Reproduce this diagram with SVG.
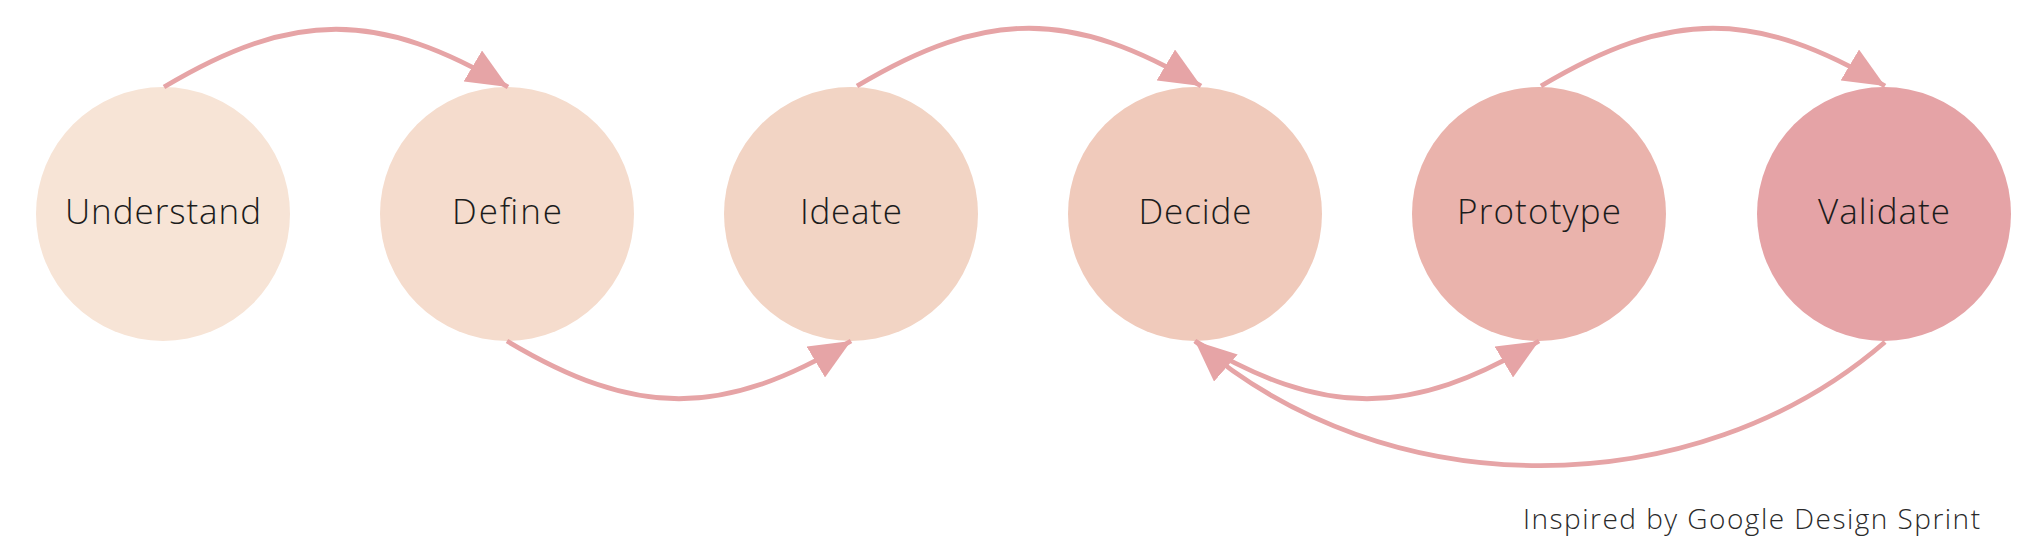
<svg xmlns="http://www.w3.org/2000/svg" width="2040" height="552" viewBox="0 0 2040 552">
<style>
.node text{font-family:"Open Sans","Liberation Sans",sans-serif;font-weight:300;font-size:35px;fill:#1c1c1c;text-anchor:middle}
.conn path{fill:none;stroke:#e6a4a6;stroke-width:4.8}
.caption{font-family:"Open Sans","Liberation Sans",sans-serif;font-weight:300;font-size:28px;fill:#2a2a2a;text-anchor:end}
</style>
<defs>
<marker id="arrow" markerUnits="userSpaceOnUse" markerWidth="42" markerHeight="36" refX="41" refY="18" orient="auto">
<path d="M0,0 L41,18 L0,36 z" fill="#e6a4a6"/>
</marker>
</defs>
<rect width="2040" height="552" fill="#ffffff"/>
<g id="understand" class="node"><circle cx="163" cy="214" r="127" fill="#f7e4d6"/><text x="163" y="224" textLength="196" lengthAdjust="spacing">Understand</text></g>
<g id="define" class="node"><circle cx="507" cy="214" r="127" fill="#f5dccd"/><text x="507" y="224" textLength="110" lengthAdjust="spacing">Define</text></g>
<g id="ideate" class="node"><circle cx="851" cy="214" r="127" fill="#f2d4c4"/><text x="851" y="224" textLength="102" lengthAdjust="spacing">Ideate</text></g>
<g id="decide" class="node"><circle cx="1195" cy="214" r="127" fill="#f0cabb"/><text x="1195" y="224" textLength="113" lengthAdjust="spacing">Decide</text></g>
<g id="prototype" class="node"><circle cx="1539" cy="214" r="127" fill="#eab3ac"/><text x="1539" y="224" textLength="164" lengthAdjust="spacing">Prototype</text></g>
<g id="validate" class="node"><circle cx="1884" cy="214" r="127" fill="#e5a3a6"/><text x="1884" y="224" textLength="132" lengthAdjust="spacing">Validate</text></g>
<g id="connectors" class="conn">
<path d="M164,87 C293,10 379,10 508,87" marker-end="url(#arrow)"/>
<path d="M507,341 C636,418 722,418 851,341" marker-end="url(#arrow)"/>
<path d="M857,86 C986,9 1072,9 1201,86" marker-end="url(#arrow)"/>
<path d="M1195,341 C1324,418 1410,418 1539,341" marker-end="url(#arrow)"/>
<path d="M1541,86 C1670,9 1756,9 1885,86" marker-end="url(#arrow)"/>
<path d="M1885,342 C1695,507 1385,507 1195,341" marker-end="url(#arrow)"/>
</g>
<text class="caption" x="1980" y="529" textLength="457" lengthAdjust="spacing">Inspired by Google Design Sprint</text>
</svg>
